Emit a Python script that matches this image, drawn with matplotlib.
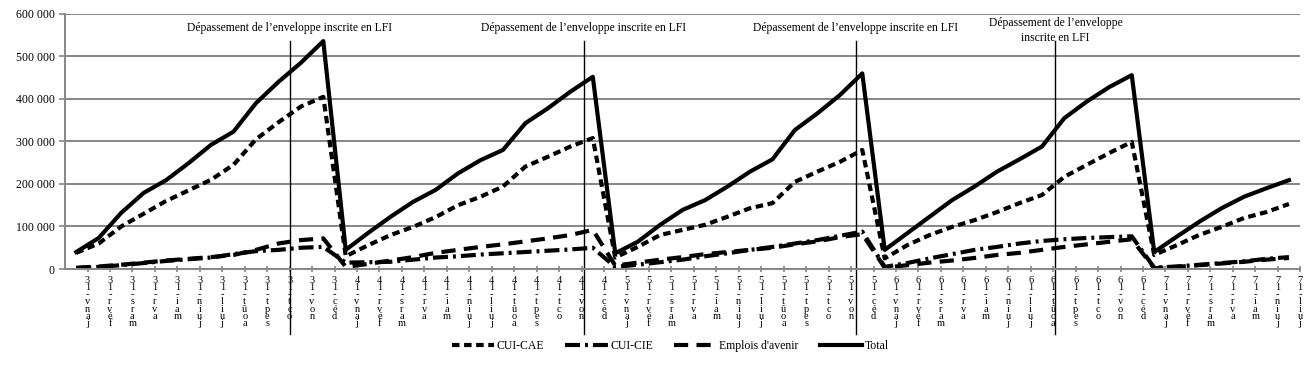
import numpy as np
import matplotlib.pyplot as plt
from matplotlib.ticker import FuncFormatter, FixedLocator

# months (French, Excel style labels)
months = ['janv', 'févr', 'mars', 'avr', 'mai', 'juin', 'juil',
          'août', 'sept', 'oct', 'nov', 'déc']
years = ['13', '14', '15', '16', '17']
labels = [m + '-' + y for y in years for m in months][:55]

# values in thousands
cae = [38, 60, 100, 130, 160, 185, 210, 245, 305, 345, 382, 405,
       30, 56, 80, 99, 122, 150, 170, 194, 241, 264, 288, 308,
       27, 52, 80, 92, 104, 123, 143, 155, 205, 229, 252, 280,
       25, 56, 80, 99, 115, 134, 155, 174, 217, 245, 273, 299,
       33, 56, 80, 99, 120, 134, 153]
cie = [2, 5, 9, 14, 19, 23, 27, 35, 42, 45, 50, 52,
       15, 16, 17, 22, 27, 30, 34, 37, 40, 43, 46, 50,
       5, 10, 16, 22, 30, 37, 45, 52, 60, 68, 78, 88,
       5, 14, 25, 35, 45, 52, 60, 66, 70, 73, 75, 77,
       3, 6, 10, 14, 18, 24, 28]
eav = [3, 6, 10, 15, 20, 24, 28, 33, 45, 60, 68, 72,
       5, 12, 20, 28, 38, 45, 52, 58, 65, 72, 80, 92,
       8, 15, 22, 28, 35, 40, 45, 50, 58, 65, 75, 82,
       3, 9, 15, 20, 26, 33, 38, 45, 52, 58, 64, 70,
       2, 5, 9, 13, 17, 22, 26]
total = [40, 73, 132, 179, 209, 249, 292, 323, 390, 440, 485, 536,
         45, 85, 123, 158, 186, 225, 256, 280, 343, 378, 417, 452,
         37, 64, 104, 139, 162, 194, 229, 258, 327, 366, 409, 460,
         45, 84, 123, 162, 194, 229, 258, 288, 355, 394, 428, 456,
         40, 76, 111, 143, 170, 190, 209]

# "Dépassement" markers (x in category units)
marks = [9.5, 22.6, 34.7, 43.6]
mark_texts = ["Dépassement de l’enveloppe inscrite en LFI"] * 3 + \
             ["Dépassement de l’enveloppe\ninscrite en LFI"]

plt.rcParams['font.family'] = ['Liberation Serif', 'DejaVu Serif']

fig = plt.figure(figsize=(13.14, 3.66), dpi=100)
ax = fig.add_axes([0.0495, 0.265, 0.94, 0.697])

x = np.arange(len(labels))
k = 1000
ax.plot(x, np.array(cae) * k, color='black', lw=3, dashes=(1.8, 1.1), label='CUI-CAE')
ax.plot(x, np.array(cie) * k, color='black', lw=3, dashes=(3.6, 1.2, 0.7, 1.2), label='CUI-CIE')
ax.plot(x, np.array(eav) * k, color='black', lw=3, dashes=(3.4, 2.0), label="Emplois d'avenir")
ax.plot(x, np.array(total) * k, color='black', lw=3, label='Total')

ax.set_ylim(0, 600000)
ax.set_xlim(-0.5, len(labels) - 0.5)
ax.set_yticks(np.arange(0, 600001, 100000))
ax.yaxis.set_major_formatter(FuncFormatter(lambda v, p: f"{int(v):,}".replace(',', ' ')))
ax.grid(axis='y', color='#868686', lw=1.4)
ax.set_axisbelow(True)

for s in ['top', 'right']:
    ax.spines[s].set_visible(False)
for s in ['left', 'bottom']:
    ax.spines[s].set_color('#868686')
    ax.spines[s].set_linewidth(1.4)

ax.tick_params(axis='y', colors='#868686', labelcolor='black', labelsize=8.5, length=4, width=1.2)
# tick marks at category boundaries, labels shifted half a category
ax.xaxis.set_major_locator(FixedLocator(np.arange(len(labels)) + 0.5))
ax.set_xticklabels(['\n'.join(reversed(l)) for l in labels], fontsize=7.5, linespacing=0.74,
                   va='top')
ax.tick_params(axis='x', colors='#868686', labelcolor='black', length=4, width=1.2,
               direction='inout', pad=3)

for xm, t in zip(marks, mark_texts):
    ax.axvline(xm, ymin=-0.255, ymax=0.894, color='black', lw=1, clip_on=False)
    yt = 0.945 if '\n' not in t else 0.935
    ax.text(xm, yt, t, transform=ax.get_xaxis_transform(), ha='center', va='center',
            fontsize=8.4, linespacing=1.35)

fig.legend(loc='center', bbox_to_anchor=(0.51, 0.055), ncol=4, frameon=False,
           fontsize=8.5, handlelength=3.6, columnspacing=1.8, handletextpad=0.2)

fig.savefig('out.png', dpi=100)
